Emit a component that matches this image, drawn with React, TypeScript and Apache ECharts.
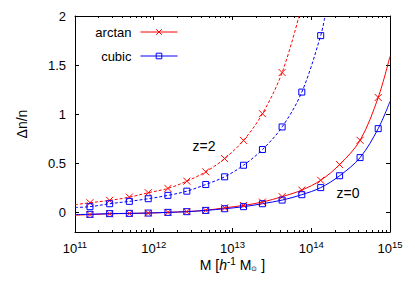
import React, { useEffect, useRef } from 'react';
import * as echarts from 'echarts';

// log10 of halo mass at the marker positions
const logMass = [11.19, 11.44, 11.69, 11.93, 12.18, 12.42, 12.66, 12.9, 13.14, 13.38, 13.63, 13.88, 14.12, 14.36, 14.62, 14.85];

const arctanZ0 = [-0.022, -0.015, -0.011, -0.007, 0.0, 0.008, 0.021, 0.046, 0.071, 0.105, 0.16, 0.227, 0.327, 0.487, 0.734, 1.17];
const cubicZ0 = [-0.02, -0.013, -0.01, -0.007, 0.0, 0.007, 0.02, 0.037, 0.058, 0.088, 0.125, 0.18, 0.252, 0.373, 0.558, 0.853];
const arctanZ2 = [0.098, 0.122, 0.155, 0.2, 0.244, 0.318, 0.413, 0.548, 0.733, 1.005, 1.424, null, null, null, null, null];
const cubicZ2 = [0.058, 0.088, 0.112, 0.139, 0.173, 0.216, 0.284, 0.362, 0.48, 0.64, 0.87, 1.225, 1.8, null, null, null];

// curve end points [log10 M, value]
const arctanZ0Ends = [[11, -0.03], [15, 1.59]];
const cubicZ0Ends = [[11, -0.022], [15, 1.13]];
const arctanZ2Ends = [[11, 0.078], [13.845, 2.0]];
const cubicZ2Ends = [[11, 0.05], [14.175, 2.0]];

const xDecades = [11, 12, 13, 14, 15];
const yRange = [-0.2, 2];

const FONT = '"Liberation Sans", Arial, Helvetica, sans-serif';
const RED = '#ff0000';
const BLUE = '#0000ff';
const CROSS = 'path://M0,0L10,10M0,10L10,0';

function buildData(values: (number | null)[], ends: number[][]) {
  const pts: any[] = [];
  pts.push({ value: [Math.pow(10, ends[0][0]), ends[0][1]], symbol: 'none' });
  logMass.forEach((lm, i) => {
    const v = values[i];
    if (v !== null && v !== undefined) pts.push({ value: [Math.pow(10, lm), v] });
  });
  pts.push({ value: [Math.pow(10, ends[1][0]), ends[1][1]], symbol: 'none' });
  return pts;
}

export default function App() {
  const ref = useRef<HTMLDivElement>(null);
  useEffect(() => {
    if (!ref.current) return;
    const chart = echarts.init(ref.current, null, { renderer: 'svg' });
    const xMin = Math.pow(10, xDecades[0]);
    const xMax = Math.pow(10, xDecades[xDecades.length - 1]);
    const baseX = {
      type: 'log',
      logBase: 10,
      min: xMin,
      max: xMax,
      splitLine: { show: false },
      minorSplitLine: { show: false },
      axisLine: { show: true, onZero: false, lineStyle: { color: '#000', width: 1 } },
      axisTick: { show: true, inside: true, length: 4, lineStyle: { color: '#000' } },
      minorTick: { show: true, splitNumber: 9, length: 2, lineStyle: { color: '#000' } },
    };
    const baseY = {
      type: 'value',
      min: yRange[0],
      max: yRange[1],
      splitNumber: 5,
      splitLine: { show: false },
      axisLine: { show: true, onZero: false, lineStyle: { color: '#000', width: 1 } },
      axisTick: { show: true, inside: true, length: 4, lineStyle: { color: '#000' } },
    };
    const mkSeries = (name: string, values: any, ends: any, color: string, dashed: boolean, symbol: string, size: number) => ({
      type: 'line',
      name,
      data: buildData(values, ends),
      smooth: 0.35,
      symbol,
      symbolSize: size,
      showAllSymbol: true,
      lineStyle: { color, width: 1, type: dashed ? [3, 2] : 'solid' },
      itemStyle: { color: 'transparent', borderColor: color, borderWidth: 1 },
      emphasis: { disabled: true },
      silent: true,
    });
    chart.setOption({
      animation: false,
      backgroundColor: '#fff',
      textStyle: { fontFamily: FONT },
      grid: { left: 75, right: 25, top: 16, bottom: 59, outerBoundsMode: 'none' },
      legend: {
        data: ['arctan', 'cubic'],
        orient: 'vertical',
        align: 'right',
        right: 237,
        top: 25.5,
        itemWidth: 37,
        itemHeight: 7,
        itemGap: 11,
        padding: 0,
        selectedMode: false,
        lineStyle: { width: 1 },
        itemStyle: { borderWidth: 1 },
        textStyle: { fontFamily: FONT, fontSize: 13, color: '#000', padding: [0, 4, 0, 0] },
      },
      xAxis: [
        {
          ...baseX,
          position: 'bottom',
          name: '{a|M [}{i|h}{s|-1}{a| M}{sub|⊙}{a| ]}',
          nameLocation: 'middle',
          nameGap: 24,
          nameMoveOverlap: false,
          nameTextStyle: {
            fontSize: 14,
            color: '#000',
            rich: {
              a: { fontSize: 14, fontFamily: FONT, color: '#000', lineHeight: 16, verticalAlign: 'bottom' },
              i: { fontSize: 14, fontFamily: FONT, fontStyle: 'italic', color: '#000', lineHeight: 16, verticalAlign: 'bottom' },
              s: { fontSize: 10, fontFamily: FONT, color: '#000', lineHeight: 6, verticalAlign: 'top' },
              sub: { fontSize: 7, fontFamily: FONT, color: '#000', lineHeight: 7, verticalAlign: 'bottom' },
            },
          },
          axisLabel: {
            margin: 7,
            fontSize: 13,
            color: '#000',
            showMinLabel: true,
            showMaxLabel: true,
            hideOverlap: false,
            formatter: (v: number) => '{b|10}{s|' + Math.round(Math.log10(v)) + '}',
            rich: {
              b: { fontSize: 13, fontFamily: FONT, color: '#000', lineHeight: 16, verticalAlign: 'bottom' },
              s: { fontSize: 9.5, fontFamily: FONT, color: '#000', lineHeight: 8, verticalAlign: 'top' },
            },
          },
        },
        {
          ...baseX,
          position: 'top',
          axisLabel: { show: false },
        },
      ],
      yAxis: [
        {
          ...baseY,
          position: 'left',
          axisLabel: { fontSize: 13, fontFamily: FONT, color: '#000', margin: 9, showMinLabel: false },
          name: 'Δn/n',
          nameLocation: 'middle',
          nameGap: 46,
          nameMoveOverlap: false,
          nameTextStyle: { fontSize: 14, fontFamily: FONT, color: '#000' },
        },
        {
          ...baseY,
          position: 'right',
          axisLabel: { show: false },
        },
      ],
      graphic: [
        { type: 'text', x: 204, y: 146, style: { text: 'z=2', font: '14px ' + FONT, fill: '#000', align: 'center', verticalAlign: 'middle' } },
        { type: 'text', x: 348, y: 193, style: { text: 'z=0', font: '14px ' + FONT, fill: '#000', align: 'center', verticalAlign: 'middle' } },
      ],
      series: [
        mkSeries('arctan', arctanZ0, arctanZ0Ends, RED, false, CROSS, 7),
        mkSeries('cubic', cubicZ0, cubicZ0Ends, BLUE, false, 'rect', 6),
        mkSeries('arctan', arctanZ2, arctanZ2Ends, RED, true, CROSS, 7),
        mkSeries('cubic', cubicZ2, cubicZ2Ends, BLUE, true, 'rect', 6),
      ],
    });
    return () => chart.dispose();
  }, []);
  return <div ref={ref} style={{ position: 'fixed', left: 0, top: 0, width: 415, height: 291, background: '#fff' }} />;
}
